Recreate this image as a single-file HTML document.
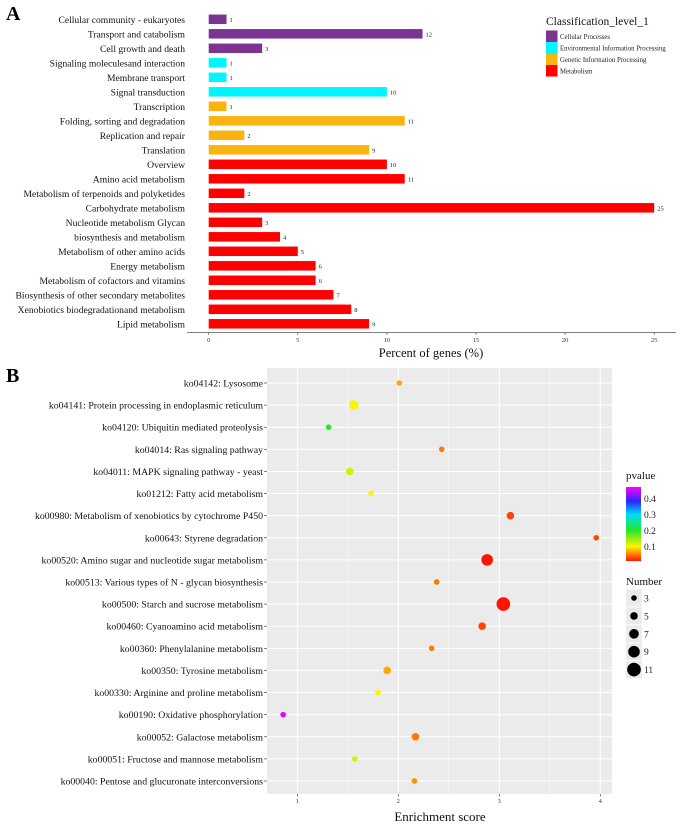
<!DOCTYPE html>
<html><head><meta charset="utf-8"><style>
html,body{margin:0;padding:0;background:#fff;}
svg{display:block;font-family:"Liberation Serif",serif;}
</style></head><body>
<svg id="chart" width="685" height="825" viewBox="0 0 685 825">
<text x="6" y="20" font-size="20" font-weight="bold">A</text>
<text x="6" y="382" font-size="20" font-weight="bold">B</text>
<g id="pa"></g>
<g id="pb"></g>
</svg>
<script>
const NS='http://www.w3.org/2000/svg';
// Panel A data
const barCategories=["Cellular community - eukaryotes","Transport and catabolism","Cell growth and death","Signaling moleculesand interaction","Membrane transport","Signal transduction","Transcription","Folding, sorting and degradation","Replication and repair","Translation","Overview","Amino acid metabolism","Metabolism of terpenoids and polyketides","Carbohydrate metabolism","Nucleotide metabolism Glycan","biosynthesis and metabolism","Metabolism of other amino acids","Energy metabolism","Metabolism of cofactors and vitamins","Biosynthesis of other secondary metabolites","Xenobiotics biodegradationand metabolism","Lipid metabolism"];
const barValues=[1,12,3,1,1,10,1,11,2,9,10,11,2,25,3,4,5,6,6,7,8,9];
const barGroups=[0,0,0,1,1,1,2,2,2,2,3,3,3,3,3,3,3,3,3,3,3,3];
const groupNames=["Cellular Processes","Environmental Information Processing","Genetic Information Processing","Metabolism"];
const groupColors=["#7b3590","#00f5ff","#fbb40f","#ff0000"];
const barTicks=[0,5,10,15,20,25];
// Panel B data
const termLabels=["ko04142: Lysosome","ko04141: Protein processing in endoplasmic reticulum","ko04120: Ubiquitin mediated proteolysis","ko04014: Ras signaling pathway","ko04011: MAPK signaling pathway - yeast","ko01212: Fatty acid metabolism","ko00980: Metabolism of xenobiotics by cytochrome P450","ko00643: Styrene degradation","ko00520: Amino sugar and nucleotide sugar metabolism","ko00513: Various types of N - glycan biosynthesis","ko00500: Starch and sucrose metabolism","ko00460: Cyanoamino acid metabolism","ko00360: Phenylalanine metabolism","ko00350: Tyrosine metabolism","ko00330: Arginine and proline metabolism","ko00190: Oxidative phosphorylation","ko00052: Galactose metabolism","ko00051: Fructose and mannose metabolism","ko00040: Pentose and glucuronate interconversions"];
const enrichment=[2.01,1.56,1.31,2.43,1.52,1.73,3.11,3.96,2.88,2.38,3.04,2.83,2.33,1.89,1.80,0.86,2.17,1.57,2.16];
const geneNumber=[3,7,3,3,5,3,5,3,9,3,11,5,3,5,3,3,5,3,3];
const pvalues=[0.07,0.1,0.2,0.05,0.12,0.1,0.03,0.03,0.01,0.05,0.01,0.03,0.05,0.07,0.1,0.46,0.05,0.12,0.06];
const xTicksB=[1,2,3,4];
const pTicks=[0.1,0.2,0.3,0.4];
const sizeLegend=[3,5,7,9,11];

function mk(tag,attrs,parent,txt){const e=document.createElementNS(NS,tag);for(const k in attrs)e.setAttribute(k,attrs[k]);if(txt!==undefined)e.textContent=txt;parent.appendChild(e);return e;}

// ---- Panel A
const pa=document.getElementById('pa');
const ax0=208.7, axU=17.82, ay0=19.3, ayStep=14.5, barH=9.5;
const xA=v=>ax0+v*axU, yA=i=>ay0+i*ayStep;
barCategories.forEach((c,i)=>{
  const t=mk('text',{x:185,y:yA(i)+3.5,'font-size':9.6,'text-anchor':'end',fill:'#111'},pa,c);
  
  
  const r=mk('rect',{x:xA(0),y:yA(i)-barH/2,width:xA(barValues[i])-xA(0),height:barH,fill:groupColors[barGroups[i]]},pa);
  
  
  const v=mk('text',{x:xA(barValues[i])+3,y:yA(i)+2.5,'font-size':6.5,fill:'#222'},pa,barValues[i]);
  
  
});
const axl=mk('line',{x1:187,x2:676,y1:332.5,y2:332.5,stroke:'#555','stroke-width':0.8},pa);


barTicks.forEach(t=>{
  mk('line',{x1:xA(t),x2:xA(t),y1:332.5,y2:335,stroke:'#555','stroke-width':0.7},pa);
  const tl=mk('text',{x:xA(t),y:342,'font-size':6.5,'text-anchor':'middle',fill:'#333'},pa,t);
  
  
});
const at=mk('text',{x:431,y:357,'font-size':12.5,'text-anchor':'middle',fill:'#111'},pa,'Percent of genes (%)');


const lt=mk('text',{x:546,y:25,'font-size':11.5,fill:'#111'},pa,'Classification_level_1');


groupNames.forEach((g,i)=>{
  const y=30.5+i*11.5;
  const b=mk('rect',{x:546,y:y,width:11.5,height:11.5,fill:groupColors[i]},pa);
  
  
  const tx=mk('text',{x:560,y:y+8.5,'font-size':6.8,fill:'#222'},pa,g);
  
  
});

// ---- Panel B
const pb=document.getElementById('pb');
const L=267,R=612,T=368,B=794;
const xB=v=>196.3+v*101, yB=i=>383+i*22.11;
const bg=mk('rect',{x:L,y:T,width:R-L,height:B-T,fill:'#ebebeb'},pb);


for(let v=0.5;v<=4.5;v+=0.5){const x=xB(v);if(x>L&&x<R)mk('line',{x1:x,x2:x,y1:T,y2:B,stroke:'#fff','stroke-width':(v%1===0)?1:0.5},pb);}
termLabels.forEach((c,i)=>{
  mk('line',{x1:L,x2:R,y1:yB(i),y2:yB(i),stroke:'#fff','stroke-width':1},pb);
  mk('line',{x1:L-3,x2:L,y1:yB(i),y2:yB(i),stroke:'#444','stroke-width':0.7},pb);
  const t=mk('text',{x:L-4,y:yB(i)+3.5,'font-size':9.8,'text-anchor':'end',fill:'#111'},pb,c);
  
  
});
xTicksB.forEach(t=>{
  mk('line',{x1:xB(t),x2:xB(t),y1:B,y2:B+2.5,stroke:'#444','stroke-width':0.7},pb);
  const tl=mk('text',{x:xB(t),y:B+9,'font-size':6.5,'text-anchor':'middle',fill:'#333'},pb,t);
  
  
});
const bt=mk('text',{x:440,y:821,'font-size':13,'text-anchor':'middle',fill:'#111'},pb,'Enrichment score');


const stops=[[0.01,[255,20,0]],[0.07,[255,170,0]],[0.1,[250,245,0]],[0.2,[40,230,40]],[0.3,[0,220,255]],[0.38,[40,40,255]],[0.47,[255,0,255]]];
function pcol(p){if(p<=stops[0][0])return 'rgb('+stops[0][1]+')';for(let k=1;k<stops.length;k++){if(p<=stops[k][0]){const a=stops[k-1],b=stops[k],f=(p-a[0])/(b[0]-a[0]);return 'rgb('+a[1].map((v,j)=>Math.round(v+(b[1][j]-v)*f)).join(',')+')';}}return 'rgb('+stops[stops.length-1][1]+')';}
const rad=n=>1.3+0.5*n;
termLabels.forEach((c,i)=>{
  const d=mk('circle',{cx:xB(enrichment[i]),cy:yB(i),r:rad(geneNumber[i]),fill:pcol(pvalues[i])},pb);
  
  
});
// color legend
const pt=mk('text',{x:626,y:479,'font-size':11,fill:'#111'},pb,'pvalue');


const defs=mk('defs',{},pb);
const lg=mk('linearGradient',{id:'pg',x1:0,y1:1,x2:0,y2:0},defs);
stops.forEach(s=>mk('stop',{offset:((s[0]-0.01)/0.46),'stop-color':'rgb('+s[1]+')'},lg));
const pY=p=>561-(p-0.01)/0.46*74;
const cb=mk('rect',{x:626,y:487,width:15,height:74,fill:'url(#pg)'},pb);


pTicks.forEach(p=>{
  const tl=mk('text',{x:644,y:pY(p)+3.5,'font-size':9.5,fill:'#222'},pb,p);
  
  
});
const nt=mk('text',{x:626,y:585,'font-size':11,fill:'#111'},pb,'Number');


sizeLegend.forEach((n,i)=>{
  const y=598+i*17.9;
  mk('rect',{x:626,y:y-8.5,width:16,height:17,fill:'#ebebeb'},pb);
  const c=mk('circle',{cx:634,cy:y,r:rad(n),fill:'#000'},pb);
  
  
  const tl=mk('text',{x:644,y:y+3.5,'font-size':9.5,fill:'#222'},pb,n);
  
  
});
</script>
</body></html>
